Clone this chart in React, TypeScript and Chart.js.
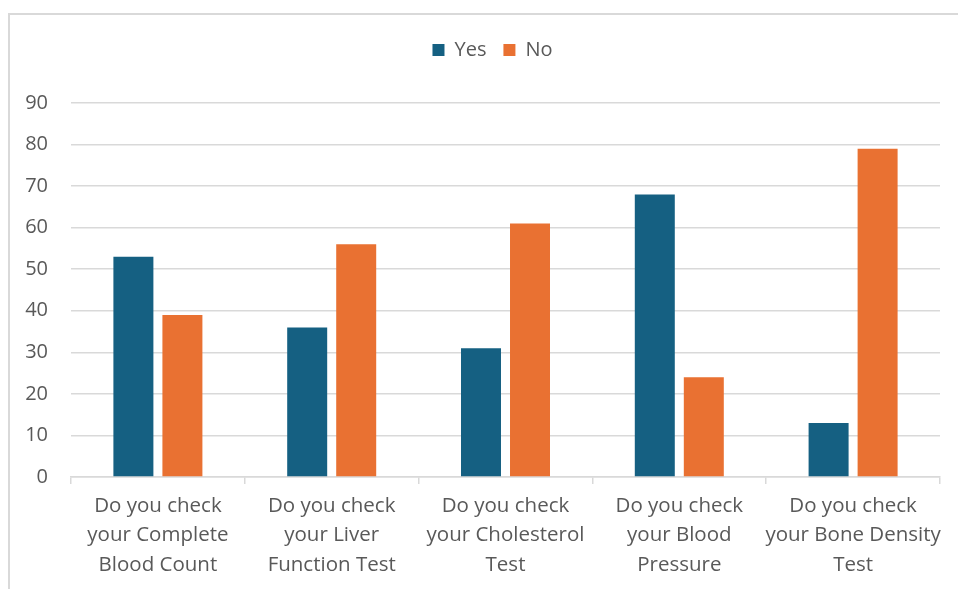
import React, { useEffect, useRef } from "react";
import { Chart, registerables } from "chart.js";

Chart.register(...registerables);

const categories: string[][] = [
  ["Do you check", "your Complete", "Blood Count"],
  ["Do you check", "your Liver", "Function Test"],
  ["Do you check", "your Cholesterol", "Test"],
  ["Do you check", "your Blood", "Pressure"],
  ["Do you check", "your Bone Density", "Test"],
];
const yesValues: number[] = [53, 36, 31, 68, 13];
const noValues: number[] = [39, 56, 61, 24, 79];
const seriesNames: string[] = ["Yes", "No"];
const yMin = 0;
const yMax = 90;
const yStep = 10;

const FONT = "'Open Sans', sans-serif";
const TEXT = "#595959";
const GRID = "#d9d9d9";

const legendSpacer = {
  id: "legendSpacer",
  beforeLayout(chart: any) {
    const legend = chart.legend;
    if (!legend || legend.__patched) return;
    const orig = legend.fit;
    legend.fit = function () {
      orig.call(this);
      this.height = 80;
    };
    legend.__patched = true;
  },
  afterLayout(chart: any) {
    const legend = chart.legend;
    if (!legend) return;
    legend.left += 22.5;
    legend.right += 22.5;
  },
};

export default function App() {
  const ref = useRef<HTMLCanvasElement | null>(null);

  useEffect(() => {
    if (!ref.current) return;
    const chart = new Chart(ref.current, {
      type: "bar",
      data: {
        labels: categories,
        datasets: [
          {
            label: seriesNames[0],
            data: yesValues,
            backgroundColor: "#156082",
            categoryPercentage: 0.564,
            barPercentage: 0.816,
          },
          {
            label: seriesNames[1],
            data: noValues,
            backgroundColor: "#E97132",
            categoryPercentage: 0.564,
            barPercentage: 0.816,
          },
        ],
      },
      options: {
        animation: false,
        responsive: true,
        maintainAspectRatio: false,
        layout: { padding: { left: 0, right: 18, top: 23, bottom: 0 } },
        plugins: {
          tooltip: { enabled: false },
          legend: {
            position: "top",
            align: "center",
            labels: {
              boxWidth: 12,
              boxHeight: 12,
              padding: 17,
              color: TEXT,
              font: { family: FONT, size: 20 },
            },
          },
        },
        scales: {
          x: {
            afterFit(scale: any) {
              scale.height = 112;
            },
            grid: {
              display: true,
              drawOnChartArea: false,
              drawTicks: true,
              tickLength: 7,
              offset: true,
              color: GRID,
              lineWidth: 1.5,
            },
            border: { display: true, color: GRID, width: 1.5 },
            ticks: {
              color: TEXT,
              padding: 7,
              maxRotation: 0,
              autoSkip: false,
              font: { family: FONT, size: 20.5, lineHeight: 1.44 },
            },
          },
          y: {
            min: yMin,
            max: yMax,
            afterFit(scale: any) {
              scale.width = 71;
            },
            grid: { color: GRID, lineWidth: 1.5, drawTicks: false },
            border: { display: false },
            ticks: {
              stepSize: yStep,
              color: TEXT,
              padding: 23,
              font: { family: FONT, size: 20 },
            },
          },
        },
      },
      plugins: [legendSpacer],
    } as any);
    return () => chart.destroy();
  }, []);

  return (
    <div
      style={{
        position: "fixed",
        left: 0,
        top: 0,
        width: 958,
        height: 589,
        overflow: "hidden",
        background: "#fff",
      }}
    >
      <div
        style={{
          position: "absolute",
          left: 8,
          top: 13,
          width: 1000,
          height: 700,
          border: "2px solid #d9d9d9",
          boxSizing: "border-box",
        }}
      />
      <div style={{ position: "absolute", left: 0, top: 0, width: 958, height: 589 }}>
        <canvas ref={ref} />
      </div>
    </div>
  );
}
